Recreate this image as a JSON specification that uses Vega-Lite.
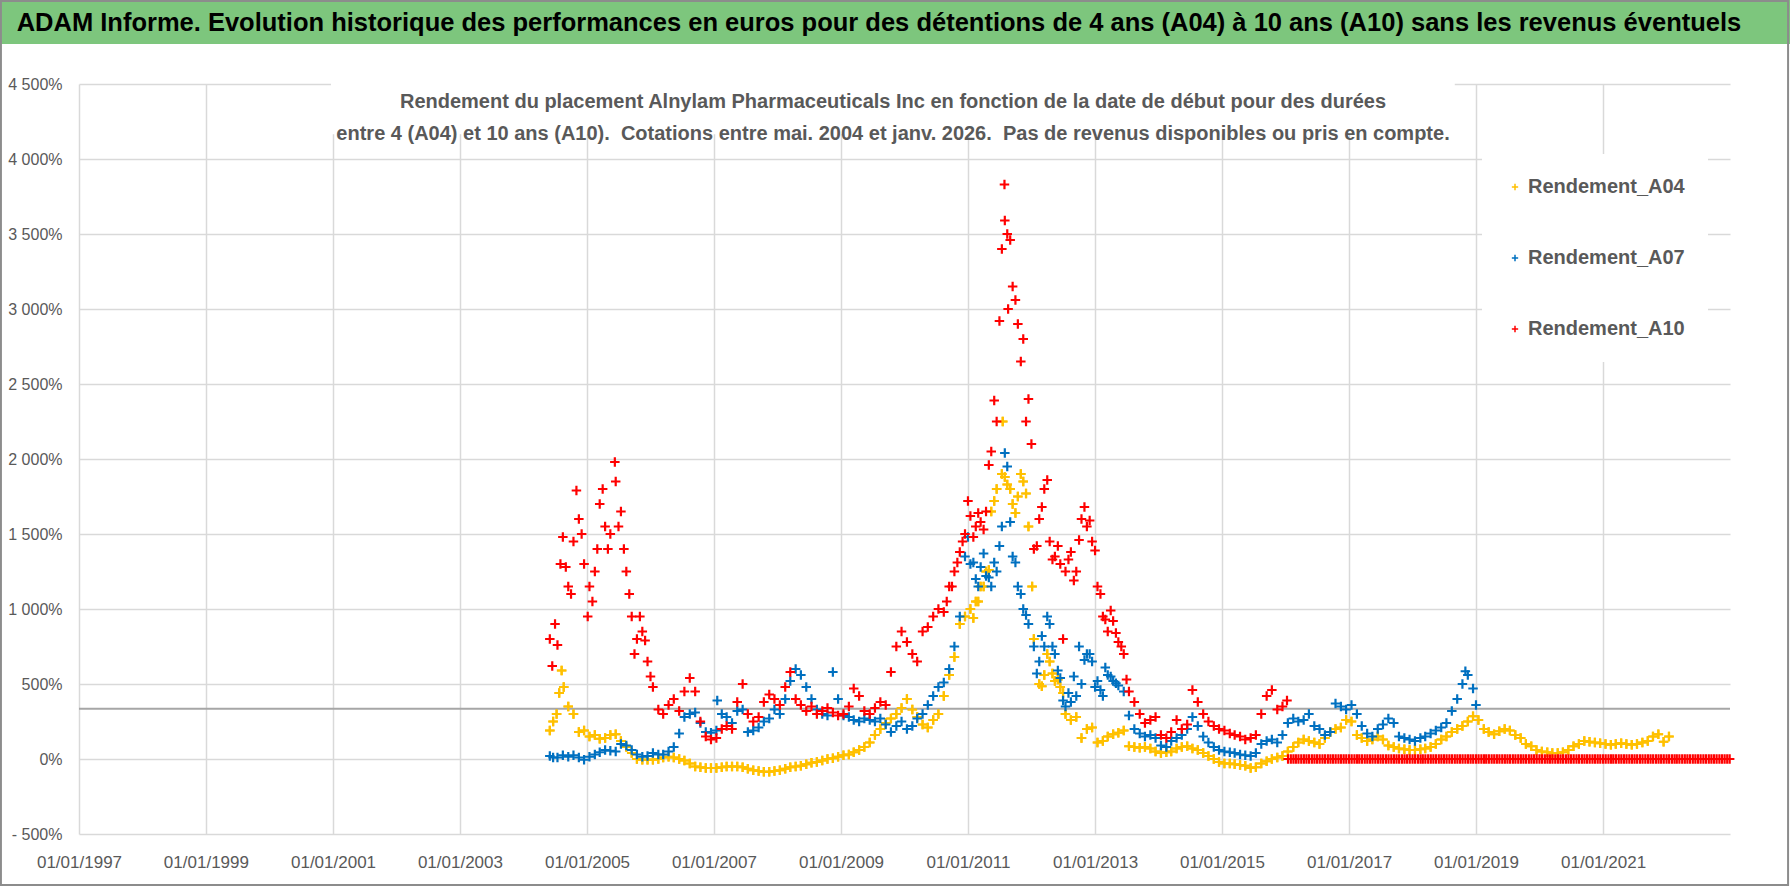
{
  "$schema": "https://vega.github.io/schema/vega-lite/v6.json",
  "description": "ADAM Informe - Alnylam Pharmaceuticals, rendements A04 / A07 / A10",
  "width": 1651,
  "height": 750,
  "autosize": "none",
  "padding": {"left": 79, "top": 84, "right": 60, "bottom": 52},
  "background": "white",
  "datasets": {
    "a04": [
      {"d":"2004-06-01","r":190},{"d":"2004-06-20","r":250},{"d":"2004-07-10","r":300},{"d":"2004-07-25","r":440},{"d":"2004-08-08","r":590},{"d":"2004-08-20","r":480},{"d":"2004-09-15","r":350},{"d":"2004-10-15","r":300},{"d":"2004-11-15","r":180},{"d":"2004-12-15","r":190},
      {"d":"2005-01-15","r":150},{"d":"2005-02-15","r":160},{"d":"2005-03-15","r":135},{"d":"2005-04-15","r":140},{"d":"2005-05-15","r":160},{"d":"2005-06-15","r":165},{"d":"2005-07-15","r":120},{"d":"2005-08-15","r":80},{"d":"2005-09-15","r":40},{"d":"2005-10-15","r":0},{"d":"2005-11-15","r":-5},{"d":"2005-12-15","r":-5},
      {"d":"2006-01-15","r":-5},{"d":"2006-02-15","r":0},{"d":"2006-03-15","r":10},{"d":"2006-04-15","r":15},{"d":"2006-05-15","r":10},{"d":"2006-06-15","r":0},{"d":"2006-07-15","r":-10},{"d":"2006-08-15","r":-30},{"d":"2006-09-15","r":-50},{"d":"2006-10-15","r":-55},{"d":"2006-11-15","r":-60},{"d":"2006-12-15","r":-60},
      {"d":"2007-01-15","r":-60},{"d":"2007-02-15","r":-55},{"d":"2007-03-15","r":-50},{"d":"2007-04-15","r":-50},{"d":"2007-05-15","r":-50},{"d":"2007-06-15","r":-55},{"d":"2007-07-15","r":-65},{"d":"2007-08-15","r":-75},{"d":"2007-09-15","r":-80},{"d":"2007-10-15","r":-85},{"d":"2007-11-15","r":-85},{"d":"2007-12-15","r":-80},
      {"d":"2008-01-15","r":-75},{"d":"2008-02-15","r":-65},{"d":"2008-03-15","r":-55},{"d":"2008-04-15","r":-50},{"d":"2008-05-15","r":-45},{"d":"2008-06-15","r":-35},{"d":"2008-07-15","r":-25},{"d":"2008-08-15","r":-20},{"d":"2008-09-15","r":-10},{"d":"2008-10-15","r":0},{"d":"2008-11-15","r":5},{"d":"2008-12-15","r":15},
      {"d":"2009-01-15","r":25},{"d":"2009-02-15","r":30},{"d":"2009-03-15","r":45},{"d":"2009-04-15","r":60},{"d":"2009-05-15","r":80},{"d":"2009-06-15","r":110},{"d":"2009-07-15","r":160},{"d":"2009-08-15","r":200},{"d":"2009-09-15","r":240},{"d":"2009-10-15","r":270},{"d":"2009-11-15","r":300},{"d":"2009-12-15","r":340},
      {"d":"2010-01-15","r":400},{"d":"2010-02-15","r":330},{"d":"2010-03-15","r":280},{"d":"2010-04-15","r":230},{"d":"2010-05-15","r":210},{"d":"2010-06-15","r":260},{"d":"2010-07-15","r":300},{"d":"2010-08-15","r":420},{"d":"2010-09-15","r":560},{"d":"2010-10-15","r":680},{"d":"2010-11-15","r":900},{"d":"2010-12-15","r":950},
      {"d":"2011-01-15","r":1000},{"d":"2011-02-01","r":940},{"d":"2011-02-15","r":1050},{"d":"2011-03-01","r":1050},{"d":"2011-03-15","r":1150},{"d":"2011-04-01","r":1150},{"d":"2011-04-15","r":1250},{"d":"2011-05-01","r":1260},{"d":"2011-05-15","r":1650},{"d":"2011-06-01","r":1720},{"d":"2011-06-15","r":1800},{"d":"2011-07-15","r":1900},{"d":"2011-07-20","r":2250},{"d":"2011-08-01","r":1880},{"d":"2011-08-15","r":1830},{"d":"2011-09-01","r":1800},{"d":"2011-09-15","r":1700},{"d":"2011-10-01","r":1640},{"d":"2011-10-15","r":1750},{"d":"2011-11-01","r":1900},{"d":"2011-11-15","r":1850},{"d":"2011-12-01","r":1770},{"d":"2011-12-15","r":1550},
      {"d":"2012-01-05","r":1150},{"d":"2012-01-15","r":800},{"d":"2012-02-15","r":500},{"d":"2012-03-01","r":485},{"d":"2012-03-15","r":560},{"d":"2012-04-01","r":700},{"d":"2012-04-15","r":650},{"d":"2012-05-01","r":570},{"d":"2012-05-15","r":520},{"d":"2012-06-01","r":530},{"d":"2012-06-15","r":480},{"d":"2012-07-01","r":440},{"d":"2012-07-15","r":300},{"d":"2012-08-15","r":260},{"d":"2012-09-15","r":280},{"d":"2012-10-15","r":140},{"d":"2012-11-15","r":200},{"d":"2012-12-15","r":210},
      {"d":"2013-01-15","r":110},{"d":"2013-02-15","r":120},{"d":"2013-03-15","r":150},{"d":"2013-04-15","r":165},{"d":"2013-05-15","r":175},{"d":"2013-06-15","r":190},{"d":"2013-07-15","r":85},{"d":"2013-08-15","r":80},{"d":"2013-09-15","r":75},{"d":"2013-10-15","r":80},{"d":"2013-11-15","r":70},{"d":"2013-12-15","r":50},
      {"d":"2014-01-15","r":40},{"d":"2014-02-15","r":45},{"d":"2014-03-15","r":50},{"d":"2014-04-15","r":70},{"d":"2014-05-15","r":80},{"d":"2014-06-15","r":85},{"d":"2014-07-15","r":70},{"d":"2014-08-15","r":60},{"d":"2014-09-15","r":40},{"d":"2014-10-15","r":20},{"d":"2014-11-15","r":0},{"d":"2014-12-15","r":-20},
      {"d":"2015-01-15","r":-30},{"d":"2015-02-15","r":-30},{"d":"2015-03-15","r":-35},{"d":"2015-04-15","r":-40},{"d":"2015-05-15","r":-45},{"d":"2015-06-15","r":-60},{"d":"2015-07-15","r":-55},{"d":"2015-08-15","r":-30},{"d":"2015-09-15","r":-15},{"d":"2015-10-15","r":0},{"d":"2015-11-15","r":10},{"d":"2015-12-15","r":20},
      {"d":"2016-01-15","r":50},{"d":"2016-02-15","r":80},{"d":"2016-03-15","r":110},{"d":"2016-04-15","r":130},{"d":"2016-05-15","r":120},{"d":"2016-06-15","r":110},{"d":"2016-07-15","r":100},{"d":"2016-08-15","r":140},{"d":"2016-09-15","r":180},{"d":"2016-10-15","r":200},{"d":"2016-11-15","r":210},{"d":"2016-12-15","r":260},
      {"d":"2017-01-15","r":250},{"d":"2017-02-15","r":160},{"d":"2017-03-15","r":140},{"d":"2017-04-15","r":120},{"d":"2017-05-15","r":130},{"d":"2017-06-15","r":150},{"d":"2017-07-15","r":130},{"d":"2017-08-15","r":90},{"d":"2017-09-15","r":80},{"d":"2017-10-15","r":70},{"d":"2017-11-15","r":65},{"d":"2017-12-15","r":60},
      {"d":"2018-01-15","r":60},{"d":"2018-02-15","r":65},{"d":"2018-03-15","r":70},{"d":"2018-04-15","r":80},{"d":"2018-05-15","r":100},{"d":"2018-06-15","r":130},{"d":"2018-07-15","r":150},{"d":"2018-08-15","r":180},{"d":"2018-09-15","r":200},{"d":"2018-10-15","r":220},{"d":"2018-11-15","r":250},{"d":"2018-12-15","r":285},
      {"d":"2019-01-15","r":260},{"d":"2019-02-15","r":200},{"d":"2019-03-15","r":180},{"d":"2019-04-15","r":165},{"d":"2019-05-15","r":185},{"d":"2019-06-15","r":200},{"d":"2019-07-15","r":190},{"d":"2019-08-15","r":160},{"d":"2019-09-15","r":140},{"d":"2019-10-15","r":100},{"d":"2019-11-15","r":85},{"d":"2019-12-15","r":60},
      {"d":"2020-01-15","r":50},{"d":"2020-02-15","r":45},{"d":"2020-03-15","r":40},{"d":"2020-04-15","r":40},{"d":"2020-05-15","r":45},{"d":"2020-06-15","r":60},{"d":"2020-07-15","r":85},{"d":"2020-08-15","r":100},{"d":"2020-09-15","r":120},{"d":"2020-10-15","r":115},{"d":"2020-11-15","r":110},{"d":"2020-12-15","r":105},
      {"d":"2021-01-15","r":100},{"d":"2021-02-15","r":95},{"d":"2021-03-15","r":100},{"d":"2021-04-15","r":105},{"d":"2021-05-15","r":100},{"d":"2021-06-15","r":95},{"d":"2021-07-15","r":100},{"d":"2021-08-15","r":110},{"d":"2021-09-15","r":120},{"d":"2021-10-15","r":150},{"d":"2021-11-15","r":165},{"d":"2021-12-15","r":115},
      {"d":"2022-01-15","r":150}
    ],
    "a07": [
      {"d":"2004-06-01","r":20},{"d":"2004-06-20","r":10},{"d":"2004-07-15","r":10},{"d":"2004-08-15","r":25},{"d":"2004-09-15","r":15},{"d":"2004-10-15","r":25},{"d":"2004-11-15","r":10},{"d":"2004-12-15","r":-5},
      {"d":"2005-01-15","r":15},{"d":"2005-02-15","r":30},{"d":"2005-03-15","r":45},{"d":"2005-04-15","r":60},{"d":"2005-05-15","r":55},{"d":"2005-06-15","r":50},{"d":"2005-07-15","r":100},{"d":"2005-08-15","r":90},{"d":"2005-09-15","r":60},{"d":"2005-10-15","r":30},{"d":"2005-11-15","r":15},{"d":"2005-12-15","r":20},
      {"d":"2006-01-15","r":40},{"d":"2006-02-15","r":30},{"d":"2006-03-15","r":30},{"d":"2006-04-15","r":50},{"d":"2006-05-15","r":80},{"d":"2006-06-15","r":170},{"d":"2006-07-15","r":280},{"d":"2006-08-15","r":300},{"d":"2006-09-15","r":310},{"d":"2006-10-15","r":240},{"d":"2006-11-15","r":180},{"d":"2006-12-15","r":175},
      {"d":"2007-01-15","r":190},{"d":"2007-01-20","r":390},{"d":"2007-02-15","r":300},{"d":"2007-03-15","r":280},{"d":"2007-04-15","r":240},{"d":"2007-05-15","r":320},{"d":"2007-06-15","r":330},{"d":"2007-07-15","r":180},{"d":"2007-08-15","r":190},{"d":"2007-09-15","r":210},{"d":"2007-10-15","r":250},{"d":"2007-11-15","r":270},{"d":"2007-12-15","r":330},
      {"d":"2008-01-15","r":300},{"d":"2008-02-15","r":400},{"d":"2008-03-15","r":520},{"d":"2008-04-15","r":600},{"d":"2008-05-15","r":560},{"d":"2008-06-15","r":480},{"d":"2008-07-15","r":400},{"d":"2008-08-15","r":330},{"d":"2008-09-15","r":300},{"d":"2008-10-15","r":290},{"d":"2008-11-15","r":580},{"d":"2008-12-15","r":400},
      {"d":"2009-01-15","r":290},{"d":"2009-02-15","r":280},{"d":"2009-03-15","r":260},{"d":"2009-04-15","r":250},{"d":"2009-05-15","r":270},{"d":"2009-06-15","r":260},{"d":"2009-07-15","r":250},{"d":"2009-08-15","r":270},{"d":"2009-09-15","r":230},{"d":"2009-10-15","r":180},{"d":"2009-11-15","r":220},{"d":"2009-12-15","r":250},
      {"d":"2010-01-15","r":200},{"d":"2010-02-15","r":220},{"d":"2010-03-15","r":270},{"d":"2010-04-15","r":300},{"d":"2010-05-15","r":360},{"d":"2010-06-15","r":420},{"d":"2010-07-15","r":480},{"d":"2010-08-15","r":510},{"d":"2010-09-15","r":600},{"d":"2010-10-15","r":750},{"d":"2010-11-15","r":950},{"d":"2010-12-15","r":1350},
      {"d":"2011-01-01","r":1480},{"d":"2011-01-15","r":1300},{"d":"2011-02-01","r":1310},{"d":"2011-02-15","r":1200},{"d":"2011-03-01","r":1150},{"d":"2011-03-15","r":1280},{"d":"2011-04-01","r":1370},{"d":"2011-04-15","r":1220},{"d":"2011-05-01","r":1210},{"d":"2011-05-15","r":1150},{"d":"2011-06-01","r":1310},{"d":"2011-06-15","r":1250},{"d":"2011-07-01","r":1420},{"d":"2011-07-15","r":1550},{"d":"2011-08-01","r":2040},{"d":"2011-08-15","r":1950},{"d":"2011-09-01","r":1580},{"d":"2011-09-15","r":1350},{"d":"2011-10-01","r":1310},{"d":"2011-10-15","r":1150},{"d":"2011-11-01","r":1100},{"d":"2011-11-15","r":1000},{"d":"2011-12-01","r":960},{"d":"2011-12-15","r":900},
      {"d":"2012-01-15","r":750},{"d":"2012-02-01","r":570},{"d":"2012-02-15","r":650},{"d":"2012-03-01","r":820},{"d":"2012-03-15","r":750},{"d":"2012-04-01","r":950},{"d":"2012-04-15","r":900},{"d":"2012-05-01","r":750},{"d":"2012-05-15","r":700},{"d":"2012-06-01","r":590},{"d":"2012-06-15","r":540},{"d":"2012-07-01","r":390},{"d":"2012-07-15","r":350},{"d":"2012-08-01","r":440},{"d":"2012-08-15","r":380},{"d":"2012-09-01","r":550},{"d":"2012-09-15","r":420},{"d":"2012-10-01","r":750},{"d":"2012-10-15","r":500},{"d":"2012-11-01","r":660},{"d":"2012-11-15","r":700},{"d":"2012-12-01","r":700},{"d":"2012-12-15","r":650},
      {"d":"2013-01-01","r":480},{"d":"2013-01-15","r":520},{"d":"2013-02-01","r":460},{"d":"2013-02-15","r":420},{"d":"2013-03-01","r":610},{"d":"2013-03-15","r":560},{"d":"2013-04-01","r":550},{"d":"2013-04-15","r":520},{"d":"2013-05-01","r":505},{"d":"2013-05-15","r":490},{"d":"2013-06-15","r":450},{"d":"2013-07-15","r":290},{"d":"2013-08-15","r":200},{"d":"2013-09-15","r":170},{"d":"2013-10-15","r":150},{"d":"2013-11-15","r":160},{"d":"2013-12-15","r":140},
      {"d":"2014-01-15","r":90},{"d":"2014-02-15","r":80},{"d":"2014-03-15","r":120},{"d":"2014-04-15","r":140},{"d":"2014-05-15","r":160},{"d":"2014-06-15","r":200},{"d":"2014-07-15","r":280},{"d":"2014-08-15","r":220},{"d":"2014-09-15","r":150},{"d":"2014-10-15","r":110},{"d":"2014-11-15","r":80},{"d":"2014-12-15","r":60},
      {"d":"2015-01-15","r":50},{"d":"2015-02-15","r":45},{"d":"2015-03-15","r":40},{"d":"2015-04-15","r":30},{"d":"2015-05-15","r":25},{"d":"2015-06-15","r":20},{"d":"2015-07-15","r":40},{"d":"2015-08-15","r":100},{"d":"2015-09-15","r":120},{"d":"2015-10-15","r":130},{"d":"2015-11-15","r":110},{"d":"2015-12-15","r":160},
      {"d":"2016-01-15","r":240},{"d":"2016-02-15","r":270},{"d":"2016-03-15","r":250},{"d":"2016-04-15","r":260},{"d":"2016-05-15","r":300},{"d":"2016-06-15","r":220},{"d":"2016-07-15","r":200},{"d":"2016-08-15","r":160},{"d":"2016-09-15","r":180},{"d":"2016-10-15","r":370},{"d":"2016-11-15","r":350},{"d":"2016-12-15","r":330},
      {"d":"2017-01-15","r":360},{"d":"2017-02-15","r":300},{"d":"2017-03-15","r":220},{"d":"2017-04-15","r":170},{"d":"2017-05-15","r":150},{"d":"2017-06-15","r":200},{"d":"2017-07-15","r":230},{"d":"2017-08-15","r":270},{"d":"2017-09-15","r":240},{"d":"2017-10-15","r":150},{"d":"2017-11-15","r":140},{"d":"2017-12-15","r":130},
      {"d":"2018-01-15","r":120},{"d":"2018-02-15","r":140},{"d":"2018-03-15","r":150},{"d":"2018-04-15","r":170},{"d":"2018-05-15","r":190},{"d":"2018-06-15","r":210},{"d":"2018-07-15","r":240},{"d":"2018-08-15","r":320},{"d":"2018-09-15","r":400},{"d":"2018-10-15","r":500},{"d":"2018-11-01","r":585},{"d":"2018-11-15","r":560},{"d":"2018-12-15","r":470},
      {"d":"2019-01-01","r":360}
    ],
    "a10": [
      {"d":"2004-06-01","r":800},{"d":"2004-06-15","r":620},{"d":"2004-07-01","r":900},{"d":"2004-07-15","r":760},{"d":"2004-08-01","r":1300},{"d":"2004-08-15","r":1480},{"d":"2004-09-01","r":1280},{"d":"2004-09-15","r":1150},{"d":"2004-10-01","r":1100},{"d":"2004-10-15","r":1450},{"d":"2004-11-01","r":1790},{"d":"2004-11-15","r":1600},{"d":"2004-12-01","r":1500},{"d":"2004-12-15","r":1300},
      {"d":"2005-01-05","r":950},{"d":"2005-01-15","r":1150},{"d":"2005-02-01","r":1050},{"d":"2005-02-15","r":1250},{"d":"2005-03-01","r":1400},{"d":"2005-03-15","r":1700},{"d":"2005-04-01","r":1800},{"d":"2005-04-15","r":1550},{"d":"2005-05-01","r":1400},{"d":"2005-05-15","r":1500},{"d":"2005-06-10","r":1980},{"d":"2005-06-15","r":1850},{"d":"2005-07-01","r":1550},{"d":"2005-07-15","r":1650},{"d":"2005-08-01","r":1400},{"d":"2005-08-15","r":1250},{"d":"2005-09-01","r":1100},{"d":"2005-09-15","r":950},{"d":"2005-10-01","r":700},{"d":"2005-10-15","r":800},{"d":"2005-11-01","r":950},{"d":"2005-11-15","r":850},{"d":"2005-12-01","r":790},{"d":"2005-12-15","r":650},
      {"d":"2006-01-01","r":550},{"d":"2006-01-15","r":480},{"d":"2006-02-15","r":330},{"d":"2006-03-15","r":300},{"d":"2006-04-15","r":360},{"d":"2006-05-15","r":400},{"d":"2006-06-15","r":320},{"d":"2006-07-15","r":450},{"d":"2006-08-15","r":540},{"d":"2006-09-15","r":450},{"d":"2006-10-15","r":250},{"d":"2006-11-15","r":150},{"d":"2006-12-15","r":130},
      {"d":"2007-01-15","r":140},{"d":"2007-02-15","r":200},{"d":"2007-03-15","r":220},{"d":"2007-04-15","r":200},{"d":"2007-05-15","r":380},{"d":"2007-06-15","r":500},{"d":"2007-07-15","r":300},{"d":"2007-08-15","r":250},{"d":"2007-09-15","r":280},{"d":"2007-10-15","r":380},{"d":"2007-11-15","r":430},{"d":"2007-12-15","r":400},
      {"d":"2008-01-15","r":360},{"d":"2008-02-15","r":480},{"d":"2008-03-15","r":580},{"d":"2008-04-15","r":400},{"d":"2008-05-15","r":360},{"d":"2008-06-15","r":320},{"d":"2008-07-15","r":350},{"d":"2008-08-15","r":300},{"d":"2008-09-15","r":320},{"d":"2008-10-15","r":340},{"d":"2008-11-15","r":310},{"d":"2008-12-15","r":290},
      {"d":"2009-01-15","r":300},{"d":"2009-02-15","r":350},{"d":"2009-03-15","r":470},{"d":"2009-04-15","r":420},{"d":"2009-05-15","r":320},{"d":"2009-06-15","r":300},{"d":"2009-07-15","r":340},{"d":"2009-08-15","r":380},{"d":"2009-09-15","r":360},{"d":"2009-10-15","r":580},{"d":"2009-11-15","r":750},{"d":"2009-12-15","r":850},
      {"d":"2010-01-15","r":780},{"d":"2010-02-15","r":700},{"d":"2010-03-15","r":650},{"d":"2010-04-15","r":850},{"d":"2010-05-15","r":880},{"d":"2010-06-15","r":950},{"d":"2010-07-15","r":1000},{"d":"2010-08-15","r":980},{"d":"2010-09-01","r":1050},{"d":"2010-09-15","r":1150},{"d":"2010-10-01","r":1150},{"d":"2010-10-15","r":1250},{"d":"2010-11-01","r":1310},{"d":"2010-11-15","r":1380},{"d":"2010-12-01","r":1450},{"d":"2010-12-15","r":1500},
      {"d":"2011-01-01","r":1720},{"d":"2011-01-15","r":1620},{"d":"2011-02-01","r":1480},{"d":"2011-02-15","r":1550},{"d":"2011-03-01","r":1640},{"d":"2011-03-15","r":1580},{"d":"2011-04-01","r":1530},{"d":"2011-04-15","r":1650},{"d":"2011-05-01","r":1960},{"d":"2011-05-15","r":2050},{"d":"2011-06-01","r":2390},{"d":"2011-06-15","r":2250},{"d":"2011-07-01","r":2920},{"d":"2011-07-15","r":3400},{"d":"2011-07-30","r":3830},{"d":"2011-08-01","r":3590},{"d":"2011-08-15","r":3500},{"d":"2011-08-20","r":3000},{"d":"2011-09-01","r":3460},{"d":"2011-09-15","r":3150},{"d":"2011-10-01","r":3060},{"d":"2011-10-15","r":2900},{"d":"2011-11-01","r":2650},{"d":"2011-11-15","r":2800},{"d":"2011-12-01","r":2250},{"d":"2011-12-15","r":2400},
      {"d":"2012-01-01","r":2100},{"d":"2012-01-15","r":1400},{"d":"2012-02-01","r":1420},{"d":"2012-02-15","r":1600},{"d":"2012-03-01","r":1680},{"d":"2012-03-15","r":1800},{"d":"2012-04-01","r":1860},{"d":"2012-04-15","r":1450},{"d":"2012-05-01","r":1330},{"d":"2012-05-15","r":1350},{"d":"2012-06-01","r":1420},{"d":"2012-06-15","r":1300},{"d":"2012-07-01","r":800},{"d":"2012-07-15","r":1250},{"d":"2012-08-01","r":1330},{"d":"2012-08-15","r":1380},{"d":"2012-09-01","r":1190},{"d":"2012-09-15","r":1250},{"d":"2012-10-01","r":1460},{"d":"2012-10-15","r":1600},{"d":"2012-11-01","r":1680},{"d":"2012-11-15","r":1550},{"d":"2012-12-01","r":1590},{"d":"2012-12-15","r":1450},
      {"d":"2013-01-01","r":1390},{"d":"2013-01-15","r":1150},{"d":"2013-02-01","r":1100},{"d":"2013-02-15","r":950},{"d":"2013-03-01","r":930},{"d":"2013-03-15","r":850},{"d":"2013-04-01","r":990},{"d":"2013-04-15","r":920},{"d":"2013-05-01","r":840},{"d":"2013-05-15","r":780},{"d":"2013-06-01","r":750},{"d":"2013-06-15","r":700},{"d":"2013-07-01","r":530},{"d":"2013-07-15","r":450},{"d":"2013-08-15","r":380},{"d":"2013-09-15","r":300},{"d":"2013-10-15","r":240},{"d":"2013-11-15","r":260},{"d":"2013-12-15","r":280},
      {"d":"2014-01-15","r":160},{"d":"2014-02-15","r":140},{"d":"2014-03-15","r":180},{"d":"2014-04-15","r":260},{"d":"2014-05-15","r":200},{"d":"2014-06-15","r":230},{"d":"2014-07-15","r":460},{"d":"2014-08-15","r":380},{"d":"2014-09-15","r":300},{"d":"2014-10-15","r":250},{"d":"2014-11-15","r":220},{"d":"2014-12-15","r":200},
      {"d":"2015-01-15","r":190},{"d":"2015-02-15","r":170},{"d":"2015-03-15","r":160},{"d":"2015-04-15","r":150},{"d":"2015-05-15","r":130},{"d":"2015-06-15","r":140},{"d":"2015-07-15","r":160},{"d":"2015-08-15","r":300},{"d":"2015-09-15","r":420},{"d":"2015-10-15","r":460},{"d":"2015-11-15","r":330},{"d":"2015-12-15","r":350},
      {"d":"2016-01-10","r":390},
      {"d":"2016-01-16","r":0},{"d":"2016-02-01","r":0},{"d":"2016-02-16","r":0},{"d":"2016-03-01","r":0},{"d":"2016-03-16","r":0},{"d":"2016-04-01","r":0},{"d":"2016-04-16","r":0},{"d":"2016-05-01","r":0},{"d":"2016-05-16","r":0},{"d":"2016-06-01","r":0},{"d":"2016-06-16","r":0},{"d":"2016-07-01","r":0},{"d":"2016-07-16","r":0},{"d":"2016-08-01","r":0},{"d":"2016-08-16","r":0},{"d":"2016-09-01","r":0},{"d":"2016-09-16","r":0},{"d":"2016-10-01","r":0},{"d":"2016-10-16","r":0},{"d":"2016-11-01","r":0},{"d":"2016-11-16","r":0},{"d":"2016-12-01","r":0},{"d":"2016-12-16","r":0},
      {"d":"2017-01-01","r":0},{"d":"2017-01-16","r":0},{"d":"2017-02-01","r":0},{"d":"2017-02-16","r":0},{"d":"2017-03-01","r":0},{"d":"2017-03-16","r":0},{"d":"2017-04-01","r":0},{"d":"2017-04-16","r":0},{"d":"2017-05-01","r":0},{"d":"2017-05-16","r":0},{"d":"2017-06-01","r":0},{"d":"2017-06-16","r":0},{"d":"2017-07-01","r":0},{"d":"2017-07-16","r":0},{"d":"2017-08-01","r":0},{"d":"2017-08-16","r":0},{"d":"2017-09-01","r":0},{"d":"2017-09-16","r":0},{"d":"2017-10-01","r":0},{"d":"2017-10-16","r":0},{"d":"2017-11-01","r":0},{"d":"2017-11-16","r":0},{"d":"2017-12-01","r":0},{"d":"2017-12-16","r":0},
      {"d":"2018-01-01","r":0},{"d":"2018-01-16","r":0},{"d":"2018-02-01","r":0},{"d":"2018-02-16","r":0},{"d":"2018-03-01","r":0},{"d":"2018-03-16","r":0},{"d":"2018-04-01","r":0},{"d":"2018-04-16","r":0},{"d":"2018-05-01","r":0},{"d":"2018-05-16","r":0},{"d":"2018-06-01","r":0},{"d":"2018-06-16","r":0},{"d":"2018-07-01","r":0},{"d":"2018-07-16","r":0},{"d":"2018-08-01","r":0},{"d":"2018-08-16","r":0},{"d":"2018-09-01","r":0},{"d":"2018-09-16","r":0},{"d":"2018-10-01","r":0},{"d":"2018-10-16","r":0},{"d":"2018-11-01","r":0},{"d":"2018-11-16","r":0},{"d":"2018-12-01","r":0},{"d":"2018-12-16","r":0},
      {"d":"2019-01-01","r":0},{"d":"2019-01-16","r":0},{"d":"2019-02-01","r":0},{"d":"2019-02-16","r":0},{"d":"2019-03-01","r":0},{"d":"2019-03-16","r":0},{"d":"2019-04-01","r":0},{"d":"2019-04-16","r":0},{"d":"2019-05-01","r":0},{"d":"2019-05-16","r":0},{"d":"2019-06-01","r":0},{"d":"2019-06-16","r":0},{"d":"2019-07-01","r":0},{"d":"2019-07-16","r":0},{"d":"2019-08-01","r":0},{"d":"2019-08-16","r":0},{"d":"2019-09-01","r":0},{"d":"2019-09-16","r":0},{"d":"2019-10-01","r":0},{"d":"2019-10-16","r":0},{"d":"2019-11-01","r":0},{"d":"2019-11-16","r":0},{"d":"2019-12-01","r":0},{"d":"2019-12-16","r":0},
      {"d":"2020-01-01","r":0},{"d":"2020-01-16","r":0},{"d":"2020-02-01","r":0},{"d":"2020-02-16","r":0},{"d":"2020-03-01","r":0},{"d":"2020-03-16","r":0},{"d":"2020-04-01","r":0},{"d":"2020-04-16","r":0},{"d":"2020-05-01","r":0},{"d":"2020-05-16","r":0},{"d":"2020-06-01","r":0},{"d":"2020-06-16","r":0},{"d":"2020-07-01","r":0},{"d":"2020-07-16","r":0},{"d":"2020-08-01","r":0},{"d":"2020-08-16","r":0},{"d":"2020-09-01","r":0},{"d":"2020-09-16","r":0},{"d":"2020-10-01","r":0},{"d":"2020-10-16","r":0},{"d":"2020-11-01","r":0},{"d":"2020-11-16","r":0},{"d":"2020-12-01","r":0},{"d":"2020-12-16","r":0},
      {"d":"2021-01-01","r":0},{"d":"2021-01-16","r":0},{"d":"2021-02-01","r":0},{"d":"2021-02-16","r":0},{"d":"2021-03-01","r":0},{"d":"2021-03-16","r":0},{"d":"2021-04-01","r":0},{"d":"2021-04-16","r":0},{"d":"2021-05-01","r":0},{"d":"2021-05-16","r":0},{"d":"2021-06-01","r":0},{"d":"2021-06-16","r":0},{"d":"2021-07-01","r":0},{"d":"2021-07-16","r":0},{"d":"2021-08-01","r":0},{"d":"2021-08-16","r":0},{"d":"2021-09-01","r":0},{"d":"2021-09-16","r":0},{"d":"2021-10-01","r":0},{"d":"2021-10-16","r":0},{"d":"2021-11-01","r":0},{"d":"2021-11-16","r":0},{"d":"2021-12-01","r":0},{"d":"2021-12-16","r":0},
      {"d":"2022-01-01","r":0},{"d":"2022-01-16","r":0},{"d":"2022-02-01","r":0},{"d":"2022-02-16","r":0},{"d":"2022-03-01","r":0},{"d":"2022-03-16","r":0},{"d":"2022-04-01","r":0},{"d":"2022-04-16","r":0},{"d":"2022-05-01","r":0},{"d":"2022-05-16","r":0},{"d":"2022-06-01","r":0},{"d":"2022-06-16","r":0},{"d":"2022-07-01","r":0},{"d":"2022-07-16","r":0},{"d":"2022-08-01","r":0},{"d":"2022-08-16","r":0},{"d":"2022-09-01","r":0},{"d":"2022-09-16","r":0},{"d":"2022-10-01","r":0},{"d":"2022-10-16","r":0},{"d":"2022-11-01","r":0},{"d":"2022-11-16","r":0},{"d":"2022-12-01","r":0},{"d":"2022-12-16","r":0},{"d":"2022-12-30","r":0}
    ]
  },
  "layer": [
    {
      "data": {"name": "a04"},
      "mark": {"type": "point", "shape": "M-1,0H1M0,-1V1", "filled": false, "size": 90, "strokeWidth": 2.2, "opacity": 1},
      "encoding": {
        "x": {
          "field": "d",
          "type": "temporal",
          "scale": {"domain": [{"year": 1997, "month": 1, "date": 1}, {"year": 2023, "month": 1, "date": 1}]},
          "axis": {
            "values": [
              {"year": 1997, "month": 1, "date": 1}, {"year": 1999, "month": 1, "date": 1}, {"year": 2001, "month": 1, "date": 1},
              {"year": 2003, "month": 1, "date": 1}, {"year": 2005, "month": 1, "date": 1}, {"year": 2007, "month": 1, "date": 1},
              {"year": 2009, "month": 1, "date": 1}, {"year": 2011, "month": 1, "date": 1}, {"year": 2013, "month": 1, "date": 1},
              {"year": 2015, "month": 1, "date": 1}, {"year": 2017, "month": 1, "date": 1}, {"year": 2019, "month": 1, "date": 1},
              {"year": 2021, "month": 1, "date": 1}
            ],
            "format": "%d/%m/%Y",
            "labelFontSize": 17,
            "labelPadding": 20,
            "labelFlush": false,
            "labelOverlap": false,
            "grid": true,
            "title": null
          }
        },
        "y": {
          "field": "r",
          "type": "quantitative",
          "scale": {"domain": [-500, 4500], "nice": false, "zero": false},
          "axis": {
            "values": [-500, 0, 500, 1000, 1500, 2000, 2500, 3000, 3500, 4000, 4500],
            "labelExpr": "(datum.value < 0 ? '- ' : '') + replace(format(abs(datum.value), ',d'), ',', ' ') + '%'",
            "labelFontSize": 16,
            "labelPadding": 17,
            "grid": true,
            "title": null
          }
        },
        "color": {
          "datum": "Rendement_A04",
          "type": "nominal",
          "scale": {"domain": ["Rendement_A04", "Rendement_A07", "Rendement_A10"], "range": ["#ffc000", "#0070c0", "#ff0000"]},
          "legend": {
            "orient": "none",
            "legendX": 1403,
            "legendY": 70,
            "title": null,
            "fillColor": "white",
            "padding": 23,
            "rowPadding": 51,
            "labelFont": "Liberation Sans",
            "labelFontSize": 20,
            "labelFontWeight": "bold",
            "labelColor": "#595959",
            "labelOffset": 3,
            "symbolType": "M-1,0H1M0,-1V1",
            "symbolSize": 40,
            "symbolStrokeWidth": 1.5
          }
        }
      }
    },
    {
      "data": {"values": [{}]},
      "mark": {"type": "rect", "color": "white"},
      "encoding": {
        "x": {"datum": {"year": 2000, "month": 12, "date": 20}, "type": "temporal"},
        "x2": {"datum": {"year": 2018, "month": 9, "date": 1}},
        "y": {"datum": 4165, "type": "quantitative"},
        "y2": {"datum": 4560}
      }
    },
    {
      "data": {"values": [{}]},
      "mark": {
        "type": "text",
        "text": [
          "Rendement du placement Alnylam Pharmaceuticals Inc en fonction de la date de début pour des durées",
          "entre 4 (A04) et 10 ans (A10).\u00a0 Cotations entre mai. 2004 et janv. 2026.\u00a0 Pas de revenus disponibles ou pris en compte."
        ],
        "font": "Liberation Sans",
        "fontSize": 20,
        "fontWeight": "bold",
        "color": "#595959",
        "lineHeight": 32,
        "align": "center",
        "baseline": "middle"
      },
      "encoding": {
        "x": {"datum": {"year": 2009, "month": 10, "date": 27}, "type": "temporal"},
        "y": {"datum": 4380, "type": "quantitative"}
      }
    },
    {
      "data": {"values": [{}]},
      "mark": {"type": "rect", "color": "#7dc67d"},
      "encoding": {
        "x": {"datum": {"year": 1995, "month": 9, "date": 1}, "type": "temporal"},
        "x2": {"datum": {"year": 2024, "month": 2, "date": 1}},
        "y": {"datum": 4767, "type": "quantitative"},
        "y2": {"datum": 5200}
      }
    },
    {
      "data": {"values": [{}]},
      "mark": {"type": "rect", "filled": false, "stroke": "#8c8c8c", "strokeWidth": 2},
      "encoding": {
        "x": {"datum": {"year": 1995, "month": 10, "date": 10}, "type": "temporal"},
        "x2": {"datum": {"year": 2023, "month": 12, "date": 1}},
        "y": {"datum": -840, "type": "quantitative"},
        "y2": {"datum": 5053}
      }
    },
    {
      "data": {"values": [{}]},
      "mark": {
        "type": "text",
        "text": "ADAM Informe. Evolution historique des performances en euros pour des détentions de 4 ans (A04) à 10 ans (A10) sans les revenus éventuels",
        "font": "Liberation Sans",
        "fontSize": 25.5,
        "fontWeight": "bold",
        "color": "#000000",
        "align": "center",
        "baseline": "middle"
      },
      "encoding": {
        "x": {"datum": {"year": 2009, "month": 8, "date": 7}, "type": "temporal"},
        "y": {"datum": 4905, "type": "quantitative"}
      }
    },
    {
      "data": {"values": [{}]},
      "mark": {"type": "rule", "color": "#a6a6a6", "strokeWidth": 2},
      "encoding": {
        "x": {"datum": {"year": 1997, "month": 1, "date": 1}, "type": "temporal"},
        "x2": {"datum": {"year": 2023, "month": 1, "date": 1}},
        "y": {"datum": 335, "type": "quantitative"}
      }
    },
    {
      "data": {"name": "a04"},
      "mark": {"type": "point", "shape": "M-1,0H1M0,-1V1", "filled": false, "size": 90, "strokeWidth": 2.2, "opacity": 1},
      "encoding": {
        "x": {"field": "d", "type": "temporal"},
        "y": {"field": "r", "type": "quantitative"},
        "color": {"datum": "Rendement_A04", "type": "nominal"}
      }
    },
    {
      "data": {"name": "a07"},
      "mark": {"type": "point", "shape": "M-1,0H1M0,-1V1", "filled": false, "size": 90, "strokeWidth": 2.2, "opacity": 1},
      "encoding": {
        "x": {"field": "d", "type": "temporal"},
        "y": {"field": "r", "type": "quantitative"},
        "color": {"datum": "Rendement_A07", "type": "nominal"}
      }
    },
    {
      "data": {"name": "a10"},
      "mark": {"type": "point", "shape": "M-1,0H1M0,-1V1", "filled": false, "size": 90, "strokeWidth": 2.2, "opacity": 1},
      "encoding": {
        "x": {"field": "d", "type": "temporal"},
        "y": {"field": "r", "type": "quantitative"},
        "color": {"datum": "Rendement_A10", "type": "nominal"}
      }
    }
  ],
  "config": {
    "font": "Liberation Sans",
    "view": {"stroke": null},
    "axis": {
      "labelFont": "Liberation Sans",
      "labelColor": "#595959",
      "gridColor": "#d9d9d9",
      "gridWidth": 1.5,
      "domain": false,
      "ticks": false
    }
  }
}
